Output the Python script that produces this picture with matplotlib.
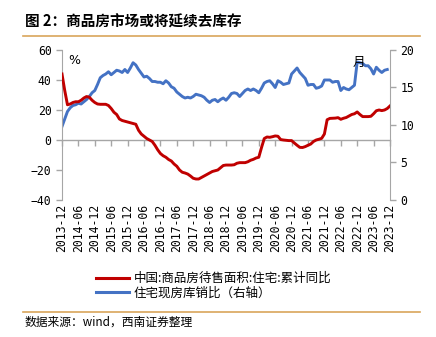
import matplotlib.pyplot as plt
import numpy as np
import pandas as pd

plt.rcParams['font.family'] = ['Noto Sans CJK SC', 'DejaVu Sans']

# monthly data, 2013-12 .. 2023-12
months = pd.date_range('2013-12-01', '2023-12-01', freq='MS')

# 中国:商品房待售面积:住宅:累计同比 (%)
inventory_yoy = [
    44, 33, 23.5, 24, 25, 25.5, 25.5, 26.5, 28, 29, 28.5, 26.5,
    25, 24, 23.8, 23.8, 23.8, 23, 21, 18.5, 17, 14, 13, 12.5,
    12, 11.5, 11, 10.5, 6.5, 4, 2.5, 1, 0, -1, -3.5, -6.5,
    -9, -10.5, -11.5, -13, -14, -16, -17.5, -20, -21.5, -22, -22.7, -24,
    -25.5, -26, -26, -25, -24, -23, -22, -21, -20.5, -20, -18.5, -17,
    -16.7, -16.7, -16.7, -16.5, -15.5, -15.1, -15.1, -15.1, -14.5, -13.5, -12.9, -12,
    -11.5, -5, 1, 2, 1.8, 2.2, 2.7, 2.5, 0.3, 0, -0.2, -0.4,
    -0.4, -2, -3.5, -4.9, -5, -4.4, -3.5, -2.7, -1, 0, 0.5, 1.1,
    4, 13.5, 14.4, 14.5, 14.6, 14.9, 13.8, 14.5, 15, 16, 17, 17.5,
    18.7, 17, 15.6, 15.6, 15.6, 15.8, 17.5, 19.5, 20, 19.6, 20, 21,
    22.7,
]

# 住宅现房库销比 (right axis), ends 2023-11
stock_sales_ratio = [
    9.8, 10.8, 11.8, 12.3, 12.6, 12.7, 12.9, 12.8, 13.1, 13.4, 13.8, 14.3,
    14.6, 15.4, 16.3, 16.6, 16.8, 17.1, 16.7, 17.0, 17.3, 17.2, 17.0, 17.4,
    17.0, 17.6, 18.3, 18.0, 17.4, 16.9, 16.4, 16.5, 16.2, 15.8, 15.8, 15.7,
    15.7, 15.5, 15.9, 15.6, 15.1, 14.9, 14.4, 14.1, 13.8, 13.6, 13.7, 13.6,
    13.8, 14.1, 14.0, 13.9, 13.7, 13.3, 13.0, 13.3, 13.4, 13.1, 13.4, 13.6,
    13.3, 13.7, 14.2, 14.3, 14.2, 13.8, 14.2, 14.6, 14.8, 14.6, 14.8, 14.6,
    14.3, 14.9, 15.6, 15.8, 15.9, 15.5, 15.0, 15.9, 15.7, 15.4, 15.5, 15.6,
    16.8, 17.2, 17.6, 17.0, 16.6, 16.2, 15.3, 15.4, 15.4, 14.9, 15.0, 15.2,
    16.0, 16.0, 16.0, 15.7, 15.8, 15.8, 14.6, 15.0, 14.8, 14.7, 15.0, 15.3,
    18.4, 18.3, 18.2, 17.9, 17.9, 17.5, 16.8, 17.7, 17.3, 17.0, 17.3, 17.4,
]

tick_labels = [f'{y}-{m:02d}' for y in range(2013, 2024) for m in (6, 12)][1:]

red = '#C00000'
blue = '#4472C4'
grey = '#A6A6A6'
tan = '#D9A55B'
mono = 'DejaVu Sans Mono'

fig = plt.figure(figsize=(4.36, 3.37), dpi=100)
ax = fig.add_axes([62/436, 1 - 200/337, 328/436, 150/337])
ax2 = ax.twinx()

x = np.arange(len(months))
ax.plot(x, inventory_yoy, color=red, lw=2.1, zorder=3)
ax2.plot(x[:len(stock_sales_ratio)], stock_sales_ratio, color=blue, lw=2.1)
ax.set_zorder(ax2.get_zorder() + 1)
ax.patch.set_visible(False)

ax.set_xlim(0, 120)
ax.set_ylim(-40, 60)
ax2.set_ylim(0, 20)
ax.set_yticks(range(-40, 61, 20))
ax2.set_yticks(range(0, 21, 5))

tick_pos = np.arange(0, 121, 6)
ax.set_xticks(tick_pos)
ax.set_xticklabels(tick_labels, rotation=90, fontsize=8.3, family=mono)
ax.tick_params(axis='x', length=0, pad=3)
ax.tick_params(axis='y', colors=grey, labelcolor='black', labelsize=8.3, length=4, width=1)
ax2.tick_params(axis='y', colors=grey, labelcolor='black', labelsize=8.3, length=4, width=1)
for lab in ax.get_yticklabels() + ax2.get_yticklabels():
    lab.set_family(mono)

for a in (ax, ax2):
    a.spines['top'].set_visible(False)
    a.spines['bottom'].set_visible(False)
    a.spines['left'].set_color(grey)
    a.spines['right'].set_color(grey)
ax2.spines['left'].set_visible(False)
ax.spines['right'].set_visible(False)

# zero axis with tick marks
zero_ax = ax.secondary_xaxis(0.4)
zero_ax.set_xticks(tick_pos)
zero_ax.set_xticklabels([])
zero_ax.tick_params(axis='x', colors=grey, length=4, width=1)
zero_ax.spines['bottom'].set_color(grey)
zero_ax.spines['bottom'].set_linewidth(1)

ax.text(0.018, 0.975, '%', transform=ax.transAxes, fontsize=9, va='top', ha='left', family='DejaVu Sans')
ax.text(0.885, 0.92, '月', transform=ax.transAxes, fontsize=9, va='center', ha='left')

# title and rules
fig.text(25/436, 1 - 22/337, '图 2：商品房市场或将延续去库存', fontsize=10.5, fontweight='bold', va='center')
fig.add_artist(plt.Line2D([23/436, 420/436], [1 - 36/337] * 2, color=tan, lw=1.2))
fig.add_artist(plt.Line2D([23/436, 420/436], [1 - 312/337] * 2, color=tan, lw=1.2))
fig.text(25/436, 1 - 322/337, '数据来源：wind，西南证券整理', fontsize=8.5, style='italic', va='center')

# legend
h1, = ax.plot([], [], color=red, lw=2.2)
h2, = ax.plot([], [], color=blue, lw=2.2)
fig.legend([h1, h2], ['中国:商品房待售面积:住宅:累计同比', '住宅现房库销比（右轴）'],
           loc='upper left', bbox_to_anchor=(96/436, 1 - 272/337), frameon=False,
           fontsize=9, handlelength=2.6, handletextpad=0.4, labelspacing=0.1,
           borderaxespad=0, borderpad=0)

fig.savefig('out.png', dpi=100)
